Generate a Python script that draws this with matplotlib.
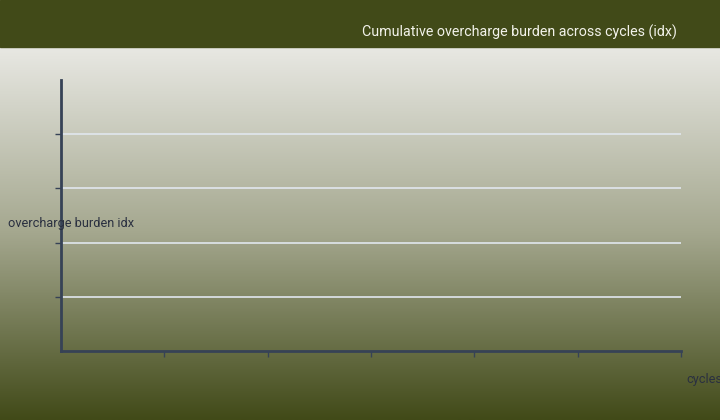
import numpy as np
import matplotlib
matplotlib.use("Agg")
import matplotlib.pyplot as plt
from matplotlib.colors import LinearSegmentedColormap

# Data (the reference shows no plotted marks)
cycles = []
burden = []
x_ticks = [1, 2, 3, 4, 5, 6]
y_ticks = [1, 2, 3, 4]
x_limits = (0, 6)
y_limits = (0, 5)

title = "Cumulative overcharge burden across cycles (idx)"
xlabel = "cycles"
ylabel = "overcharge burden idx"

plt.rcParams['font.family'] = ['Roboto', 'DejaVu Sans']

fig = plt.figure(figsize=(7.2, 4.2), dpi=100)

# background gradient + header band
bg = fig.add_axes([0, 0, 1, 1], zorder=-10)
bg.set_axis_off()
cmap = LinearSegmentedColormap.from_list("g", ["#e8e8e3", "#a4a78e", "#414a18"])
grad = np.linspace(0, 1, 256).reshape(-1, 1)
bg.imshow(grad, aspect="auto", cmap=cmap, extent=[0, 1, 0, 1 - 47 / 420], origin="upper")
bg.axhspan(1 - 47 / 420, 1, color="#414a18")
bg.set_xlim(0, 1)
bg.set_ylim(0, 1)

ax = fig.add_axes([61 / 720, 1 - 351 / 420, 620 / 720, 271 / 420])
ax.patch.set_alpha(0)
ax.plot(cycles, burden, color="#e0e6ec")
ax.set_xlim(*x_limits)
ax.set_ylim(*y_limits)
ax.set_xticks(x_ticks)
ax.set_yticks(y_ticks)
ax.set_xticklabels([])
ax.set_yticklabels([])
ax.grid(axis="y", color="#e1e7ee", linewidth=1.2)
ax.set_axisbelow(True)
for s in ["top", "right"]:
    ax.spines[s].set_visible(False)
for s in ["left", "bottom"]:
    ax.spines[s].set_color("#364256")
    ax.spines[s].set_linewidth(2)
ax.tick_params(axis="both", color="#364256", length=4, width=1)

fig.text(677 / 720, 1 - 32 / 420, title, ha="right", va="center",
         color="#f2f2ea", fontsize=10.3)
fig.text(8 / 720, 1 - 223 / 420, ylabel, ha="left", va="center",
         color="#2a3040", fontsize=9.2)
fig.text(686 / 720, 1 - 380 / 420, xlabel, ha="left", va="center",
         color="#2a3040", fontsize=9.2)

fig.savefig("out.png", dpi=100)
